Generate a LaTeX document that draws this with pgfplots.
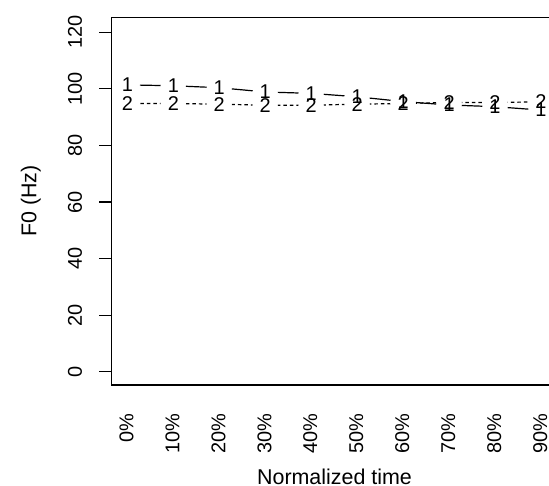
\documentclass[border=0pt]{standalone}
\usepackage{fontspec}
\setmainfont{Liberation Sans}
\usepackage{pgfplots}
\pgfplotsset{compat=1.18}
\usepackage{pgfplotstable}
\pgfplotstableread{
x y
0 101.4
1 101.1
2 100.4
3 98.9
4 98.4
5 97.2
6 95.5
7 94.3
8 93.7
9 92.5
}\seriesA
\pgfplotstableread{
x y
0 94.8
1 94.8
2 94.6
3 94.2
4 94.2
5 94.6
6 94.8
7 95.2
8 95.2
9 95.4
}\seriesB
\begin{document}
\begin{tikzpicture}
\useasboundingbox (-111.5bp,-101bp) rectangle (437.5bp,385bp);
\clip (-111.5bp,-101bp) rectangle (437.5bp,385bp);
\begin{axis}[
  at={(0,0)}, anchor=south west,
  scale only axis, width=446bp, height=367.7bp,
  xmin=-0.345, xmax=9.36, ymin=-4.7, ymax=125.3,
  axis line style={line width=1.2bp, black},
  xtick={0,1,...,9},
  xticklabels={0\%,10\%,20\%,30\%,40\%,50\%,60\%,70\%,80\%,90\%},
  ytick={0,20,...,120},
  ytick pos=left,
  tick align=outside,
  major tick length=12bp,
  x tick style={draw=none},
  y tick style={line width=1.2bp, black},
  /pgf/number format/assume math mode=true,
  tick label style={font=\fontsize{20}{24}\selectfont},
  xticklabel style={xshift=-0.8bp, rotate=90, anchor=east, inner sep=0pt},
  yticklabel style={rotate=90, anchor=base, inner sep=0pt},
  xticklabel shift=16.2bp,
  yticklabel shift=17.5bp,
  xlabel={Normalized time},
  ylabel={F0 (Hz)},
  label style={font=\fontsize{21.5}{25}\selectfont},
  xlabel style={at={(axis description cs:0.5,0)}, anchor=base, yshift=-99bp, inner sep=0pt},
  ylabel style={at={(axis description cs:0,0.5)}, anchor=base, yshift=75bp, inner sep=0pt},
  clip=false,
]
\addplot[black, line width=1.2bp] table {\seriesA};
\addplot[black, line width=1.2bp, dash pattern=on 3.5bp off 3bp] table {\seriesB};
\addplot[only marks, mark=*, mark size=12.5bp, mark options={draw=white, fill=white, solid}] table {\seriesA};
\addplot[only marks, mark=*, mark size=12.5bp, mark options={draw=white, fill=white, solid}] table {\seriesB};
\addplot[only marks, mark=text, text mark={1}, text mark as node=true,
  text mark style={font=\fontsize{20}{24}\selectfont, inner sep=0pt, anchor=center}] table {\seriesA};
\addplot[only marks, mark=text, text mark={2}, text mark as node=true,
  text mark style={font=\fontsize{20}{24}\selectfont, inner sep=0pt, anchor=center}] table {\seriesB};
\end{axis}
\end{tikzpicture}
\end{document}
